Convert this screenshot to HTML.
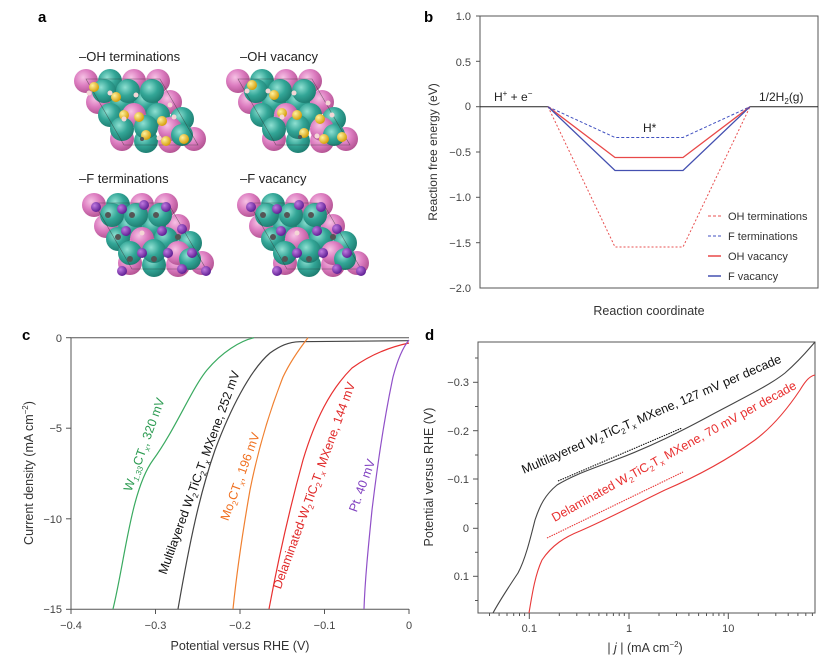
<!DOCTYPE html>
<html><head><meta charset="utf-8"><style>
html,body{margin:0;padding:0;background:#fff;}
svg{display:block;font-family:"Liberation Sans",sans-serif;}
</style></head><body>
<svg width="831" height="662" viewBox="0 0 831 662" xmlns="http://www.w3.org/2000/svg">
<defs>
<radialGradient id="gt" cx="0.38" cy="0.35" r="0.7"><stop offset="0" stop-color="#8fe0d2"/><stop offset="0.5" stop-color="#33a697"/><stop offset="1" stop-color="#1c7a6e"/></radialGradient>
<radialGradient id="gp" cx="0.38" cy="0.35" r="0.7"><stop offset="0" stop-color="#f6c2e4"/><stop offset="0.5" stop-color="#dc7cc0"/><stop offset="1" stop-color="#b0508f"/></radialGradient>
<radialGradient id="gy" cx="0.35" cy="0.35" r="0.7"><stop offset="0" stop-color="#fff2a0"/><stop offset="1" stop-color="#d49a00"/></radialGradient>
<radialGradient id="gv" cx="0.35" cy="0.35" r="0.7"><stop offset="0" stop-color="#c07ae0"/><stop offset="1" stop-color="#5a1a90"/></radialGradient>
<g id="base">
<circle cx="12" cy="12" r="12" fill="url(#gp)"/><circle cx="36" cy="12" r="12" fill="url(#gt)"/><circle cx="60" cy="12" r="12" fill="url(#gp)"/><circle cx="84" cy="12" r="12" fill="url(#gp)"/>
<circle cx="24" cy="33" r="12" fill="url(#gp)"/><circle cx="48" cy="33" r="12" fill="url(#gt)"/><circle cx="72" cy="33" r="12" fill="url(#gt)"/><circle cx="96" cy="33" r="12" fill="url(#gp)"/>
<circle cx="30" cy="22" r="12" fill="url(#gt)"/><circle cx="54" cy="22" r="12" fill="url(#gt)"/><circle cx="78" cy="22" r="12" fill="url(#gt)"/>
<circle cx="36" cy="46" r="12" fill="url(#gt)"/><circle cx="60" cy="46" r="12" fill="url(#gp)"/><circle cx="84" cy="46" r="12" fill="url(#gt)"/><circle cx="108" cy="50" r="12" fill="url(#gt)"/>
<circle cx="48" cy="70" r="12" fill="url(#gp)"/><circle cx="72" cy="72" r="12" fill="url(#gt)"/><circle cx="96" cy="72" r="12" fill="url(#gp)"/><circle cx="120" cy="70" r="12" fill="url(#gp)"/>
<circle cx="48" cy="60" r="12" fill="url(#gt)"/><circle cx="72" cy="58" r="12" fill="url(#gt)"/><circle cx="96" cy="60" r="12" fill="url(#gp)"/><circle cx="108" cy="66" r="11" fill="url(#gt)"/>
<polygon points="12,10 86,10 124,76 50,76" fill="none" stroke="#333" stroke-width="0.6" opacity="0.6"/>
</g>
<g id="ydots"><circle cx="20" cy="18" r="5" fill="url(#gy)"/><circle cx="42" cy="28" r="5" fill="url(#gy)"/><circle cx="65" cy="48" r="5" fill="url(#gy)"/><circle cx="50" cy="46" r="5" fill="url(#gy)"/><circle cx="72" cy="66" r="5" fill="url(#gy)"/><circle cx="88" cy="52" r="5" fill="url(#gy)"/><circle cx="92" cy="72" r="5" fill="url(#gy)"/><circle cx="110" cy="70" r="5" fill="url(#gy)"/><circle cx="15" cy="24" r="2.5" fill="#f4d6d6"/><circle cx="36" cy="24" r="2.5" fill="#f4d6d6"/><circle cx="62" cy="26" r="2.5" fill="#f4d6d6"/><circle cx="96" cy="36" r="2.5" fill="#f4d6d6"/><circle cx="50" cy="50" r="2.5" fill="#f4d6d6"/><circle cx="100" cy="48" r="2.5" fill="#f4d6d6"/><circle cx="85" cy="69" r="2.5" fill="#f4d6d6"/><circle cx="68" cy="70" r="2" fill="#555"/></g>
<g id="vdots"><circle cx="14" cy="14" r="5" fill="url(#gv)"/><circle cx="40" cy="16" r="5" fill="url(#gv)"/><circle cx="62" cy="12" r="5" fill="url(#gv)"/><circle cx="84" cy="14" r="5" fill="url(#gv)"/><circle cx="44" cy="38" r="5" fill="url(#gv)"/><circle cx="80" cy="38" r="5" fill="url(#gv)"/><circle cx="100" cy="36" r="5" fill="url(#gv)"/><circle cx="60" cy="60" r="5" fill="url(#gv)"/><circle cx="86" cy="60" r="5" fill="url(#gv)"/><circle cx="110" cy="60" r="5" fill="url(#gv)"/><circle cx="40" cy="78" r="5" fill="url(#gv)"/><circle cx="100" cy="76" r="5" fill="url(#gv)"/><circle cx="124" cy="78" r="5" fill="url(#gv)"/><circle cx="26" cy="22" r="3" fill="#555"/><circle cx="50" cy="22" r="3" fill="#555"/><circle cx="74" cy="22" r="3" fill="#555"/><circle cx="36" cy="44" r="3" fill="#555"/><circle cx="96" cy="44" r="3" fill="#555"/><circle cx="48" cy="66" r="3" fill="#555"/><circle cx="72" cy="66" r="3" fill="#555"/><circle cx="60" cy="40" r="2.5" fill="#f4d6d6"/></g>
</defs>

<!-- Panel a -->
<text x="38" y="22" font-size="15" font-weight="bold" fill="#000">a</text>
<text x="79" y="61" font-size="13" fill="#222">–OH terminations</text>
<text x="240" y="61" font-size="13" fill="#222">–OH vacancy</text>
<text x="79" y="183" font-size="13" fill="#222">–F terminations</text>
<text x="240" y="183" font-size="13" fill="#222">–F vacancy</text>
<g transform="translate(74,69)"><use href="#base"/><use href="#ydots"/></g>
<g transform="translate(226,69)"><use href="#base"/><use href="#ydots" transform="translate(6,-2)"/></g>
<g transform="translate(82,193)"><use href="#base"/><use href="#vdots"/></g>
<g transform="translate(237,193)"><use href="#base"/><use href="#vdots"/></g>

<!-- Panel b -->
<text x="424" y="22" font-size="15" font-weight="bold" fill="#000">b</text>
<rect x="480" y="16" width="338" height="272" fill="none" stroke="#555" stroke-width="1"/>
<g font-size="11" fill="#444" text-anchor="end">
<text x="471" y="20">1.0</text><text x="471" y="66">0.5</text><text x="471" y="110">0</text><text x="471" y="156">−0.5</text><text x="471" y="201">−1.0</text><text x="471" y="247">−1.5</text><text x="471" y="292">−2.0</text>
</g>
<g stroke="#555"><line x1="476" y1="16" x2="480" y2="16"/><line x1="476" y1="61.3" x2="480" y2="61.3"/><line x1="476" y1="106.7" x2="480" y2="106.7"/><line x1="476" y1="152" x2="480" y2="152"/><line x1="476" y1="197.3" x2="480" y2="197.3"/><line x1="476" y1="242.7" x2="480" y2="242.7"/></g>
<text transform="translate(437,152) rotate(-90)" font-size="12" fill="#333" text-anchor="middle">Reaction free energy (eV)</text>
<text x="649" y="315" font-size="12.5" fill="#333" text-anchor="middle">Reaction coordinate</text>
<line x1="480" y1="106.7" x2="548" y2="106.7" stroke="#222" stroke-width="1"/>
<line x1="750" y1="106.7" x2="818" y2="106.7" stroke="#222" stroke-width="1"/>
<polyline points="548,106.7 615,247 683,247 750,106.7" fill="none" stroke="#e85050" stroke-width="1" stroke-dasharray="2,2"/>
<polyline points="548,106.7 615,137.5 683,137.5 750,106.7" fill="none" stroke="#4050c0" stroke-width="1" stroke-dasharray="3,2"/>
<polyline points="548,106.7 615,157.5 683,157.5 750,106.7" fill="none" stroke="#e84848" stroke-width="1.3"/>
<polyline points="548,106.7 615,170.5 683,170.5 750,106.7" fill="none" stroke="#4450b0" stroke-width="1.3"/>
<text x="494" y="101" font-size="12" fill="#222">H<tspan font-size="8" dy="-5">+</tspan><tspan dy="5"> + e</tspan><tspan font-size="8" dy="-5">−</tspan></text>
<text x="759" y="101" font-size="12" fill="#222">1/2H<tspan font-size="8" dy="3">2</tspan><tspan dy="-3">(g)</tspan></text>
<text x="643" y="132" font-size="12" fill="#222">H*</text>
<g font-size="11" fill="#333">
<line x1="708" y1="216" x2="721" y2="216" stroke="#e85050" stroke-dasharray="3,2"/><text x="728" y="220">OH terminations</text>
<line x1="708" y1="236" x2="721" y2="236" stroke="#4050c0" stroke-dasharray="3,2"/><text x="728" y="240">F terminations</text>
<line x1="708" y1="256" x2="721" y2="256" stroke="#e84848" stroke-width="1.5"/><text x="728" y="260">OH vacancy</text>
<line x1="708" y1="276" x2="721" y2="276" stroke="#4450b0" stroke-width="1.5"/><text x="728" y="280">F vacancy</text>
</g>

<!-- Panel c -->
<text x="22" y="340" font-size="15" font-weight="bold" fill="#000">c</text>
<polyline points="409,337.7 71,337.7 71,609.3 409,609.3" fill="none" stroke="#555"/>
<g stroke="#555"><line x1="71" y1="609" x2="71" y2="614"/><line x1="155.5" y1="609" x2="155.5" y2="614"/><line x1="240" y1="609" x2="240" y2="614"/><line x1="324.5" y1="609" x2="324.5" y2="614"/><line x1="409" y1="609" x2="409" y2="614"/>
<line x1="66" y1="337.7" x2="71" y2="337.7"/><line x1="66" y1="428.2" x2="71" y2="428.2"/><line x1="66" y1="518.8" x2="71" y2="518.8"/><line x1="66" y1="609.3" x2="71" y2="609.3"/></g>
<g font-size="11" fill="#444" text-anchor="end"><text x="62" y="342">0</text><text x="62" y="432">−5</text><text x="62" y="523">−10</text><text x="62" y="613">−15</text></g>
<g font-size="11" fill="#444" text-anchor="middle"><text x="71" y="629">−0.4</text><text x="155.5" y="629">−0.3</text><text x="240" y="629">−0.2</text><text x="324.5" y="629">−0.1</text><text x="409" y="629">0</text></g>
<text x="240" y="650" font-size="12.5" fill="#333" text-anchor="middle">Potential versus RHE (V)</text>
<text transform="translate(33,473) rotate(-90)" font-size="12.5" fill="#333" text-anchor="middle">Current density (mA cm<tspan font-size="8" dy="-5">−2</tspan><tspan dy="5">)</tspan></text>
<g fill="none" stroke-width="1.2">
<path d="M254,337.7 C240,341 222,352 207,370 S175,430 153,460 S125,560 113,609" stroke="#3aaa60"/>
<path d="M409,340.7 L300,341.7 C288,342 280,346 270,353 C250,370 230,410 215,450 C200,493 190,540 178,609" stroke="#444"/>
<path d="M308,337.7 C300,348 290,362 283,377 C270,410 258,450 250,490 C243,530 237,570 233,609" stroke="#f08030"/>
<path d="M409,343 C390,347 370,355 352,368 C330,390 315,420 303,460 C292,500 280,550 269,609" stroke="#e83030"/>
<path d="M409,340 C404,346 398,358 393,377 C386,410 378,460 372,510 C368,550 365,580 364,609" stroke="#9050c8"/>
</g>
<g font-size="12.5">
<text transform="translate(148,446) rotate(-70)" fill="#2a9a50" text-anchor="middle">W<tspan font-size="8" dy="3" font-style="italic">1.33</tspan><tspan dy="-3">CT</tspan><tspan font-size="8" dy="3" font-style="italic">x</tspan><tspan dy="-3">, 320 mV</tspan></text>
<text transform="translate(203,474) rotate(-70)" fill="#111" text-anchor="middle">Multilayered W<tspan font-size="8" dy="3">2</tspan><tspan dy="-3">TiC</tspan><tspan font-size="8" dy="3">2</tspan><tspan dy="-3">T</tspan><tspan font-size="8" dy="3" font-style="italic">x</tspan><tspan dy="-3"> MXene, 252 mV</tspan></text>
<text transform="translate(244,478) rotate(-70)" fill="#f07020" text-anchor="middle">Mo<tspan font-size="8" dy="3">2</tspan><tspan dy="-3">CT</tspan><tspan font-size="8" dy="3" font-style="italic">x</tspan><tspan dy="-3">, 196 mV</tspan></text>
<text transform="translate(318,487) rotate(-70)" fill="#e02828" text-anchor="middle">Delaminated-W<tspan font-size="8" dy="3">2</tspan><tspan dy="-3">TiC</tspan><tspan font-size="8" dy="3">2</tspan><tspan dy="-3">T</tspan><tspan font-size="8" dy="3" font-style="italic">x</tspan><tspan dy="-3">  MXene, 144 mV</tspan></text>
<text transform="translate(366,487) rotate(-70)" fill="#8040c0" text-anchor="middle">Pt.   40 mV</text>
</g>

<!-- Panel d -->
<text x="425" y="340" font-size="15" font-weight="bold" fill="#000">d</text>
<rect x="478" y="342" width="337" height="271" fill="none" stroke="#555"/>
<g stroke="#555">
<line x1="473" y1="382.3" x2="478" y2="382.3"/><line x1="473" y1="430.7" x2="478" y2="430.7"/><line x1="473" y1="479" x2="478" y2="479"/><line x1="473" y1="528.3" x2="478" y2="528.3"/><line x1="473" y1="576.3" x2="478" y2="576.3"/>
<line x1="475" y1="358" x2="478" y2="358"/><line x1="475" y1="406.5" x2="478" y2="406.5"/><line x1="475" y1="455" x2="478" y2="455"/><line x1="475" y1="503.6" x2="478" y2="503.6"/><line x1="475" y1="552.3" x2="478" y2="552.3"/><line x1="475" y1="600.5" x2="478" y2="600.5"/>
<line x1="529.3" y1="613" x2="529.3" y2="619"/><line x1="629" y1="613" x2="629" y2="619"/><line x1="728.3" y1="613" x2="728.3" y2="619"/>
<line x1="489.5" y1="613" x2="489.5" y2="616"/><line x1="499.1" y1="613" x2="499.1" y2="616"/><line x1="507" y1="613" x2="507" y2="616"/><line x1="513.7" y1="613" x2="513.7" y2="616"/><line x1="519.5" y1="613" x2="519.5" y2="616"/><line x1="524.6" y1="613" x2="524.6" y2="616"/>
<line x1="559.3" y1="613" x2="559.3" y2="616"/><line x1="576.8" y1="613" x2="576.8" y2="616"/><line x1="589.2" y1="613" x2="589.2" y2="616"/><line x1="598.9" y1="613" x2="598.9" y2="616"/><line x1="606.8" y1="613" x2="606.8" y2="616"/><line x1="613.4" y1="613" x2="613.4" y2="616"/><line x1="619.2" y1="613" x2="619.2" y2="616"/><line x1="624.3" y1="613" x2="624.3" y2="616"/>
<line x1="659" y1="613" x2="659" y2="616"/><line x1="676.5" y1="613" x2="676.5" y2="616"/><line x1="688.9" y1="613" x2="688.9" y2="616"/><line x1="698.6" y1="613" x2="698.6" y2="616"/><line x1="706.5" y1="613" x2="706.5" y2="616"/><line x1="713.1" y1="613" x2="713.1" y2="616"/><line x1="718.9" y1="613" x2="718.9" y2="616"/><line x1="724" y1="613" x2="724" y2="616"/>
<line x1="758.3" y1="613" x2="758.3" y2="616"/><line x1="775.8" y1="613" x2="775.8" y2="616"/><line x1="788.2" y1="613" x2="788.2" y2="616"/><line x1="797.9" y1="613" x2="797.9" y2="616"/><line x1="805.8" y1="613" x2="805.8" y2="616"/><line x1="812.4" y1="613" x2="812.4" y2="616"/>
</g>
<g font-size="11" fill="#444" text-anchor="end"><text x="469" y="386">−0.3</text><text x="469" y="435">−0.2</text><text x="469" y="483">−0.1</text><text x="469" y="532">0</text><text x="469" y="580">0.1</text></g>
<g font-size="11" fill="#444" text-anchor="middle"><text x="529.3" y="632">0.1</text><text x="629" y="632">1</text><text x="728.3" y="632">10</text></g>
<text x="645" y="652" font-size="12.5" fill="#333" text-anchor="middle">| <tspan font-style="italic">j</tspan> | (mA cm<tspan font-size="8" dy="-5">−2</tspan><tspan dy="5">)</tspan></text>
<text transform="translate(433,477) rotate(-90)" font-size="12.5" fill="#333" text-anchor="middle">Potential versus RHE (V)</text>
<g fill="none" stroke-width="1.1">
<path d="M493,613 C500,600 510,585 518,573 C525,560 530,540 535,520 C540,505 545,495 557,485 C575,474 595,468 615,460 C650,447 680,432 715,413 C745,397 770,385 785,373 C800,360 808,350 815,342" stroke="#444"/>
<path d="M529,613 C532,595 535,575 542,560 C552,545 565,537 580,531 C610,518 640,502 665,490 C700,475 730,458 755,440 C775,425 790,405 800,390 C806,380 810,376 815,375" stroke="#e83838"/>
<line x1="558" y1="481" x2="682" y2="428" stroke="#111" stroke-dasharray="1.5,1"/>
<line x1="547" y1="538" x2="683" y2="472" stroke="#e83838" stroke-dasharray="1.5,1"/>
</g>
<g font-size="12.5">
<text transform="translate(653,418) rotate(-23.4)" fill="#111" text-anchor="middle">Multilayered W<tspan font-size="8" dy="3">2</tspan><tspan dy="-3">TiC</tspan><tspan font-size="8" dy="3">2</tspan><tspan dy="-3">T</tspan><tspan font-size="8" dy="3">x</tspan><tspan dy="-3"> MXene, 127 mV per decade</tspan></text>
<text transform="translate(676,455) rotate(-28.9)" fill="#e83030" text-anchor="middle">Delaminated W<tspan font-size="8" dy="3">2</tspan><tspan dy="-3">TiC</tspan><tspan font-size="8" dy="3">2</tspan><tspan dy="-3">T</tspan><tspan font-size="8" dy="3">x</tspan><tspan dy="-3"> MXene, 70 mV per decade</tspan></text>
</g>
</svg>
</body></html>
